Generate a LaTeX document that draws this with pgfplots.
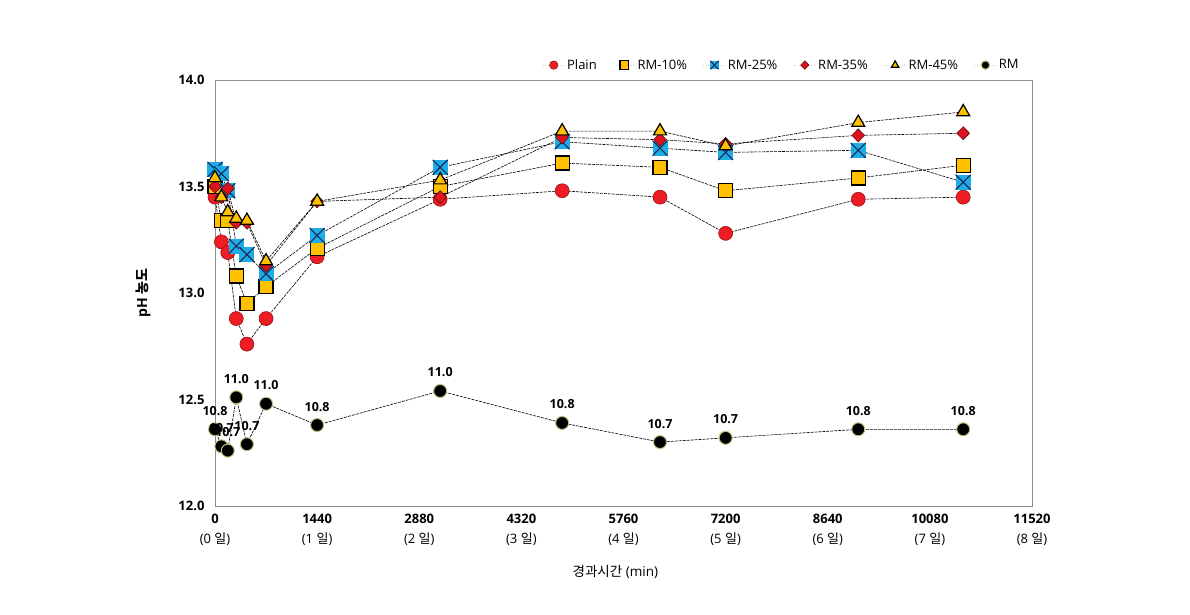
\documentclass[border=0pt]{standalone}
\usepackage{fontspec}
\setmainfont{Open Sans}
\newfontfamily\kr{Noto Sans CJK KR}
\usepackage{pgfplots}
\pgfplotsset{compat=1.18}

\definecolor{plainred}{RGB}{238,28,36}
\definecolor{plainedge}{RGB}{150,20,20}
\definecolor{rmyel}{RGB}{255,192,0}
\definecolor{rmblue}{RGB}{30,172,230}
\definecolor{rmnavy}{RGB}{20,40,90}
\definecolor{rmdia}{RGB}{220,20,30}
\definecolor{rmdiaedge}{RGB}{100,10,10}
\definecolor{rmkhaki}{RGB}{190,190,130}
\definecolor{axgray}{RGB}{140,140,140}

% blue square with a dark cross (RM-25%)
\pgfdeclareplotmark{xsquare}{%
  \pgfpathrectangle{\pgfqpoint{-\pgfplotmarksize}{-\pgfplotmarksize}}{\pgfqpoint{2\pgfplotmarksize}{2\pgfplotmarksize}}%
  \pgfsetfillcolor{rmblue}\pgfusepathqfill
  \pgfpathmoveto{\pgfqpoint{-\pgfplotmarksize}{-\pgfplotmarksize}}%
  \pgfpathlineto{\pgfqpoint{\pgfplotmarksize}{\pgfplotmarksize}}%
  \pgfpathmoveto{\pgfqpoint{-\pgfplotmarksize}{\pgfplotmarksize}}%
  \pgfpathlineto{\pgfqpoint{\pgfplotmarksize}{-\pgfplotmarksize}}%
  \pgfsetdash{}{0pt}\pgfsetstrokecolor{rmnavy}\pgfsetlinewidth{1.1pt}\pgfusepathqstroke
}

\begin{document}
\begin{tikzpicture}
\useasboundingbox (-215pt,-109pt) rectangle (975pt,506pt);
\begin{axis}[
    at={(0,0)}, anchor=south west,
    scale only axis, width=817pt, height=426pt,
    xmin=0, xmax=11520, ymin=12, ymax=14,
    scaled x ticks=false,
    xtick={0,1440,2880,4320,5760,7200,8640,10080,11520},
    xticklabels={{\textbf{0}\\(0 {\kr 일})},{\textbf{1440}\\(1 {\kr 일})},{\textbf{2880}\\(2 {\kr 일})},
      {\textbf{4320}\\(3 {\kr 일})},{\textbf{5760}\\(4 {\kr 일})},{\textbf{7200}\\(5 {\kr 일})},
      {\textbf{8640}\\(6 {\kr 일})},{\textbf{10080}\\(7 {\kr 일})},{\textbf{11520}\\(8 {\kr 일})}},
    ytick={12,12.5,13,13.5,14},
    yticklabels={\textbf{12.0},\textbf{12.5},\textbf{13.0},\textbf{13.5},\textbf{14.0}},
    major tick length=0pt,
    axis line style={axgray, line width=0.8pt},
    tick label style={font=\fontsize{13}{20}\selectfont},
    xticklabel style={align=center, yshift=-5pt},
    yticklabel style={xshift=-7pt},
    xlabel={{\kr 경과시간} (min)},
    xlabel style={at={(axis description cs:0.49,0)}, anchor=center, yshift=-66pt, font=\fontsize{13.5}{15}\selectfont},
    ylabel={\textbf{pH {\kr 농도}}},
    ylabel style={at={(axis description cs:-0.088,0.5)}, anchor=center, font=\fontsize{14}{16}\selectfont},
    legend columns=6,
    legend style={at={(axis description cs:0.99,1.035)}, anchor=east, draw=none, fill=none,
      font=\fontsize{13}{15}\selectfont, /tikz/every even column/.append style={column sep=14pt}},
    legend image code/.code={%
      \draw[gray!35, dash pattern=on 1pt off 1.5pt, line width=0.8pt] (-6pt,0pt) -- (16pt,0pt);
      \draw[#1, only marks, mark size=4.2pt] plot coordinates {(5pt,0pt)};},
    every axis plot/.append style={black, line width=0.6pt, dash pattern=on 3pt off 1pt},
    clip=false,
]
% Plain
\addplot[mark=*, mark size=7pt, mark options={solid, fill=plainred, draw=plainedge, line width=0.6pt}]
coordinates {(0,13.45) (90,13.24) (180,13.19) (300,12.88) (450,12.76) (720,12.88) (1440,13.17)
  (3175,13.44) (4895,13.48) (6275,13.45) (7200,13.28) (9070,13.44) (10550,13.45)};
% RM-10%
\addplot[mark=square*, mark size=7pt, mark options={solid, fill=rmyel, draw=black, line width=1.2pt}]
coordinates {(0,13.50) (90,13.34) (180,13.34) (300,13.08) (450,12.95) (720,13.03) (1440,13.21)
  (3175,13.50) (4895,13.61) (6275,13.59) (7200,13.48) (9070,13.54) (10550,13.60)};
% RM-25%
\addplot[mark=xsquare, mark size=7.5pt, mark options={solid}]
coordinates {(0,13.58) (90,13.56) (180,13.48) (300,13.22) (450,13.18) (720,13.09) (1440,13.27)
  (3175,13.59) (4895,13.71) (6275,13.68) (7200,13.66) (9070,13.67) (10550,13.52)};
% RM-35%
\addplot[mark=diamond*, mark size=6.5pt, mark options={solid, xscale=1.3, fill=rmdia, draw=rmdiaedge, line width=0.6pt}]
coordinates {(0,13.50) (90,13.45) (180,13.49) (300,13.33) (450,13.33) (720,13.13) (1440,13.43)
  (3175,13.45) (4895,13.73) (6275,13.72) (7200,13.70) (9070,13.74) (10550,13.75)};
% RM-45%
\addplot[mark=triangle*, mark size=7.5pt, mark options={solid, fill=rmyel, draw=black, line width=1.2pt}]
coordinates {(0,13.54) (90,13.45) (180,13.38) (300,13.35) (450,13.34) (720,13.15) (1440,13.43)
  (3175,13.53) (4895,13.76) (6275,13.76) (7200,13.69) (9070,13.80) (10550,13.85)};
% RM
\addplot[mark=*, mark size=6.5pt, mark options={solid, fill=black, draw=rmkhaki, line width=1pt},
    nodes near coords, point meta=explicit symbolic,
    nodes near coords style={font=\fontsize{12.5}{14}\selectfont\bfseries, anchor=south, yshift=10pt}]
table[meta=lab] {
x y lab
0 12.36 10.8
90 12.28 10.7
180 12.26 10.7
300 12.51 11.0
450 12.29 10.7
720 12.48 11.0
1440 12.38 10.8
3175 12.54 11.0
4895 12.39 10.8
6275 12.30 10.7
7200 12.32 10.7
9070 12.36 10.8
10550 12.36 10.8
};
\legend{Plain, RM-10\%, RM-25\%, RM-35\%, RM-45\%, RM}
\end{axis}
\end{tikzpicture}
\end{document}
